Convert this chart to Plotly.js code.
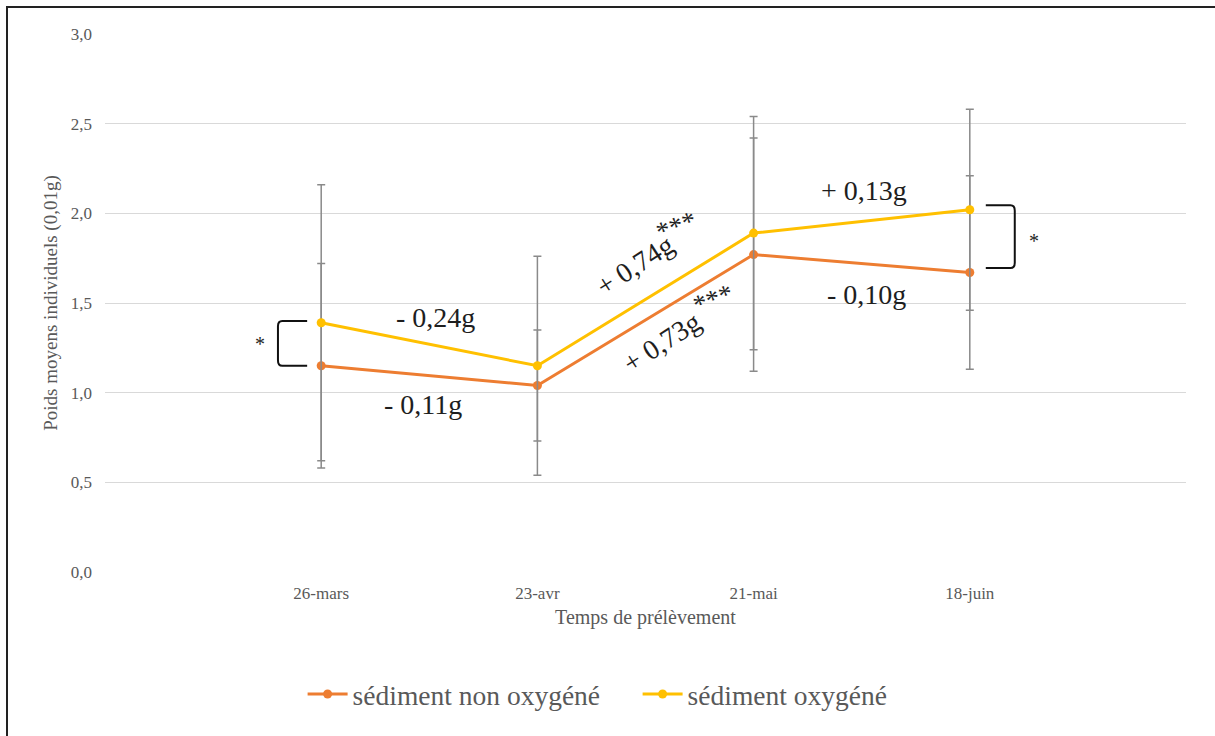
<!DOCTYPE html>
<html>
<head>
<meta charset="utf-8">
<script src="https://cdn.plot.ly/plotly-3.0.1.min.js"></script>
<style>
  html, body { margin: 0; padding: 0; background: #fff; }
  #wrap { position: relative; width: 1215px; height: 736px; overflow: hidden; }
  #chart { width: 1215px; height: 736px; }
  #frame { position: absolute; left: 6px; top: 6px; width: 1215px; height: 736px;
           border-left: 2px solid #222; border-top: 2px solid #222; pointer-events: none; }
</style>
</head>
<body>
<div id="wrap">
  <div id="chart"></div>
  <div id="frame"></div>
</div>
<script>
// ---- data ----
const categories = ['26-mars', '23-avr', '21-mai', '18-juin'];
const seriesNames = ['sédiment non oxygéné', 'sédiment oxygéné'];
const nonOxy = [1.15, 1.04, 1.77, 1.67];
const nonOxyErr = [0.57, 0.31, 0.65, 0.54];
const oxy = [1.39, 1.15, 1.89, 2.02];
const oxyErr = [0.77, 0.61, 0.65, 0.56];
const yTickVals = [0, 0.5, 1, 1.5, 2, 2.5, 3];
const changeNonOxy = ['- 0,11g', '+ 0,73g', '- 0,10g'];
const changeOxy = ['- 0,24g', '+ 0,74g', '+ 0,13g'];
const sigTrend = ['***', '***'];
const sigBetween = ['*', '*'];

const orange = '#ED7D31';
const yellow = '#FFC000';
const serif = '"Liberation Serif"';

function trace(name, y, err, color) {
  return {
    type: 'scatter', mode: 'lines+markers', name: name,
    x: categories, y: y,
    line: {color: color, width: 3},
    marker: {color: color, size: 9},
    error_y: {type: 'data', array: err, visible: true, color: '#8a8a8a', thickness: 1.5, width: 4}
  };
}

const data = [
  trace(seriesNames[0], nonOxy, nonOxyErr, orange),
  trace(seriesNames[1], oxy, oxyErr, yellow)
];

const annFont = {family: serif, size: 28, color: '#1e1e1e'};
const annotations = [
  {x: 0.53, y: 1.42, text: changeOxy[0], textangle: 0},
  {x: 0.47, y: 0.935, text: changeNonOxy[0], textangle: 0},
  {x: 1.45, y: 1.71, text: changeOxy[1], textangle: -33},
  {x: 1.575, y: 1.28, text: changeNonOxy[1], textangle: -33},
  {x: 2.51, y: 2.13, text: changeOxy[2], textangle: 0},
  {x: 2.52, y: 1.545, text: changeNonOxy[2], textangle: 0},
  {x: 1.645, y: 1.93, text: sigTrend[0], textangle: -20, size: 27},
  {x: 1.815, y: 1.52, text: sigTrend[1], textangle: -20, size: 27},
  {x: -0.283, y: 1.27, text: sigBetween[0], textangle: 0, size: 20},
  {x: 3.297, y: 1.845, text: sigBetween[1], textangle: 0, size: 20}
].map(a => ({
  x: a.x, y: a.y, xref: 'x', yref: 'y', text: a.text, showarrow: false,
  textangle: a.textangle, xanchor: 'center', yanchor: 'middle',
  font: Object.assign({}, annFont, a.size ? {size: a.size} : {})
}));

function bracket(i, armX, barX, yTop, yBot) {
  const dir = barX > armX ? 1 : -1;
  return {
    type: 'path', xref: 'x', yref: 'y', layer: 'above',
    line: {color: '#111', width: 2},
    path: `M ${i + armX},${yTop} L ${i + barX - dir * 0.02},${yTop} Q ${i + barX},${yTop} ${i + barX},${yTop - 0.03} ` +
          `L ${i + barX},${yBot + 0.03} Q ${i + barX},${yBot} ${i + barX - dir * 0.02},${yBot} L ${i + armX},${yBot}`
  };
}

const shapes = [
  bracket(0, -0.065, -0.2, oxy[0] + 0.01, nonOxy[0]),
  bracket(3, 0.074, 0.208, oxy[3] + 0.025, nonOxy[3] + 0.025)
];

const tickFont = {family: serif, size: 17, color: '#595959'};

const layout = {
  width: 1215, height: 736,
  margin: {l: 105, r: 29, t: 34, b: 164},
  paper_bgcolor: '#fff', plot_bgcolor: '#fff',
  separators: ',.',
  showlegend: true,
  legend: {orientation: 'h', x: 0.1828, xanchor: 'left', y: -0.227, yanchor: 'middle',
           font: {family: serif, size: 27.5, color: '#595959'}, itemwidth: 40,
           entrywidth: 280, entrywidthmode: 'pixels', traceorder: 'normal'},
  xaxis: {
    type: 'category', range: [-1, 4], showgrid: false, zeroline: false, showline: false,
    ticks: '', tickfont: tickFont, ticklabelstandoff: 9,
    title: {text: 'Temps de prélèvement', font: {family: serif, size: 20, color: '#595959'}, standoff: 7}
  },
  yaxis: {
    range: [0, 3], tickvals: yTickVals, tickformat: '.1f', showgrid: true, gridcolor: '#d9d9d9', gridwidth: 1,
    zeroline: false, showline: false, ticks: '', tickfont: tickFont, ticklabelstandoff: 12,
    title: {text: 'Poids moyens individuels (0,01g)', font: {family: serif, size: 19, color: '#595959'}, standoff: 8}
  },
  annotations: annotations,
  shapes: shapes
};

Plotly.newPlot('chart', data, layout, {displayModeBar: false, staticPlot: true});
</script>
</body>
</html>
